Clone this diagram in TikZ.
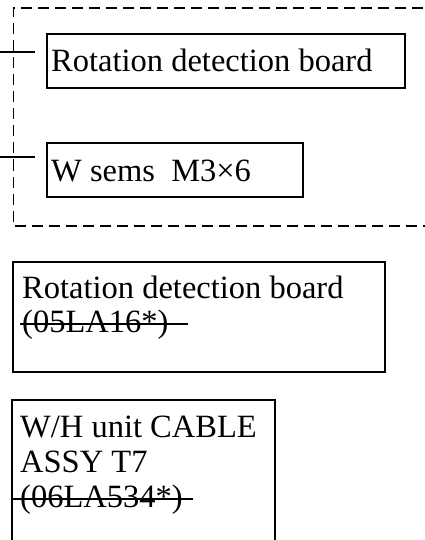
\documentclass[tikz,border=0pt]{standalone}
\usepackage{fontspec}
\setmainfont{Liberation Serif}
\begin{document}
\begin{tikzpicture}[x=1pt,y=-1pt,
  box/.style={draw,line width=2.8pt},
  dashbox/.style={draw,line width=1.8pt,dash pattern=on 11pt off 6pt},
  lbl/.style={anchor=base west,inner sep=0pt,font=\fontsize{32.5}{36}\selectfont},
  tick/.style={line width=2.6pt},
  strike/.style={line width=2.4pt}]
\useasboundingbox (0,0) rectangle (424,540);
% dashed enclosure
\draw[dashbox] (440,8) -- (13.5,8) -- (13.5,226) -- (440,226);
% leader ticks
\coordinate (t1a) at (0,52); \coordinate (t1b) at (35,52);
\coordinate (t2a) at (0,157); \coordinate (t2b) at (35,157);
\draw[tick] (t1a) -- (t1b);
\draw[tick] (t2a) -- (t2b);
% boxes
\draw[box] (47,34) rectangle (405,88);
\node[lbl] (b1) at (51,72) {Rotation detection board};
\draw[box] (47,143) rectangle (303,197);
\node[lbl] (b2) at (51,182) {W sems\ \ M3×6};
\draw[box] (13,262) rectangle (385,372);
\node[lbl] (b3a) at (22,298) {Rotation detection board};
\node[lbl] (b3b) at (22,332) {(05LA16*)};
\draw[strike] (20,324) -- (188,324);
\draw[box] (12,400) rectangle (275,560);
\node[lbl] (b4a) at (20,437) {W/H unit CABLE};
\node[lbl] (b4b) at (20,472) {ASSY T7};
\node[lbl] (b4c) at (20,507) {(06LA534*)};
\draw[strike] (12,499) -- (193,499);
\end{tikzpicture}
\end{document}
